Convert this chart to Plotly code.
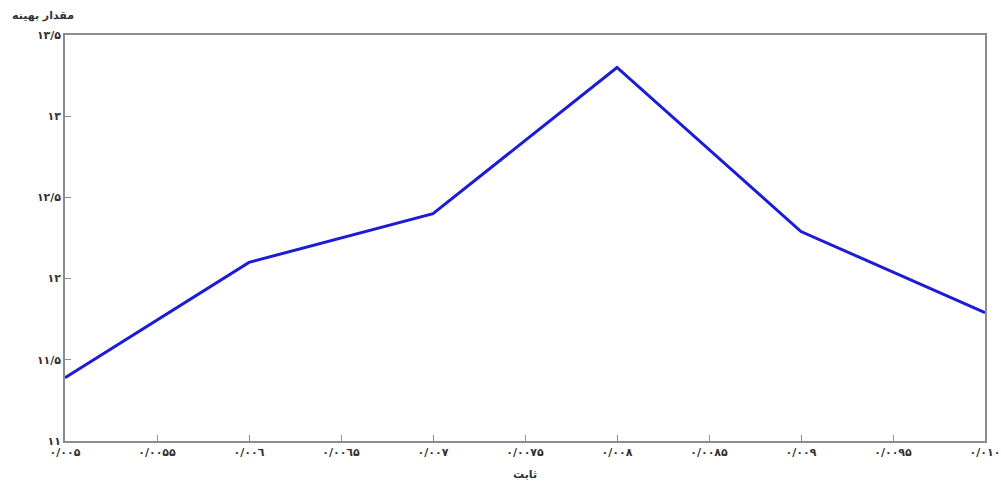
import plotly.graph_objects as go

# Series: optimum value against the constant
x_vals = [0.005, 0.006, 0.007, 0.008, 0.009, 0.010]
y_vals = [11.39, 12.10, 12.40, 13.30, 12.29, 11.79]

x_tick_vals = [0.005, 0.0055, 0.006, 0.0065, 0.007, 0.0075, 0.008, 0.0085, 0.009, 0.0095, 0.010]
x_tick_text = ["۰/۰۰۵", "۰/۰۰۵۵", "۰/۰۰٦", "۰/۰۰٦۵", "۰/۰۰۷", "۰/۰۰۷۵",
               "۰/۰۰۸", "۰/۰۰۸۵", "۰/۰۰۹", "۰/۰۰۹۵", "۰/۰۱۰"]
y_tick_vals = [11, 11.5, 12, 12.5, 13, 13.5]
y_tick_text = ["۱۱", "۱۱/۵", "۱۲", "۱۲/۵", "۱۳", "۱۳/۵"]

x_title = "ثابت"
y_title = "مقدار بهینه"

font_family = "DejaVu Sans"
axis_color = "#8c8c8c"
text_color = "#333333"

fig = go.Figure()
fig.add_trace(go.Scatter(
    x=x_vals, y=y_vals, mode="lines",
    line=dict(color="#1c1cd6", width=3),
    showlegend=False,
))

axis_common = dict(
    showgrid=False, zeroline=False, automargin=False,
    showline=True, linecolor=axis_color, linewidth=1.5, mirror=True,
    ticks="inside", ticklen=6, tickcolor=axis_color, tickwidth=1,
    tickfont=dict(family=font_family, size=11, color=text_color, weight="bold"),
)

fig.update_xaxes(
    range=[0.005, 0.010], tickvals=x_tick_vals, ticktext=x_tick_text,
    **axis_common,
)
fig.update_yaxes(
    range=[11, 13.5], tickvals=y_tick_vals, ticktext=y_tick_text,
    **axis_common,
)

fig.add_annotation(
    text=y_title, xref="paper", yref="paper", x=-0.060, y=1.0, yshift=20,
    xanchor="left", yanchor="middle", showarrow=False,
    font=dict(family=font_family, size=11, color=text_color, weight="bold"),
)
fig.add_annotation(
    text=x_title, xref="paper", yref="paper", x=0.5, y=0, yshift=-33,
    xanchor="center", yanchor="middle", showarrow=False,
    font=dict(family=font_family, size=11, color=text_color, weight="bold"),
)

fig.update_layout(
    width=1001, height=481,
    margin=dict(l=65, r=16, t=35, b=40),
    paper_bgcolor="white", plot_bgcolor="white",
)

fig.write_html("out.html")
